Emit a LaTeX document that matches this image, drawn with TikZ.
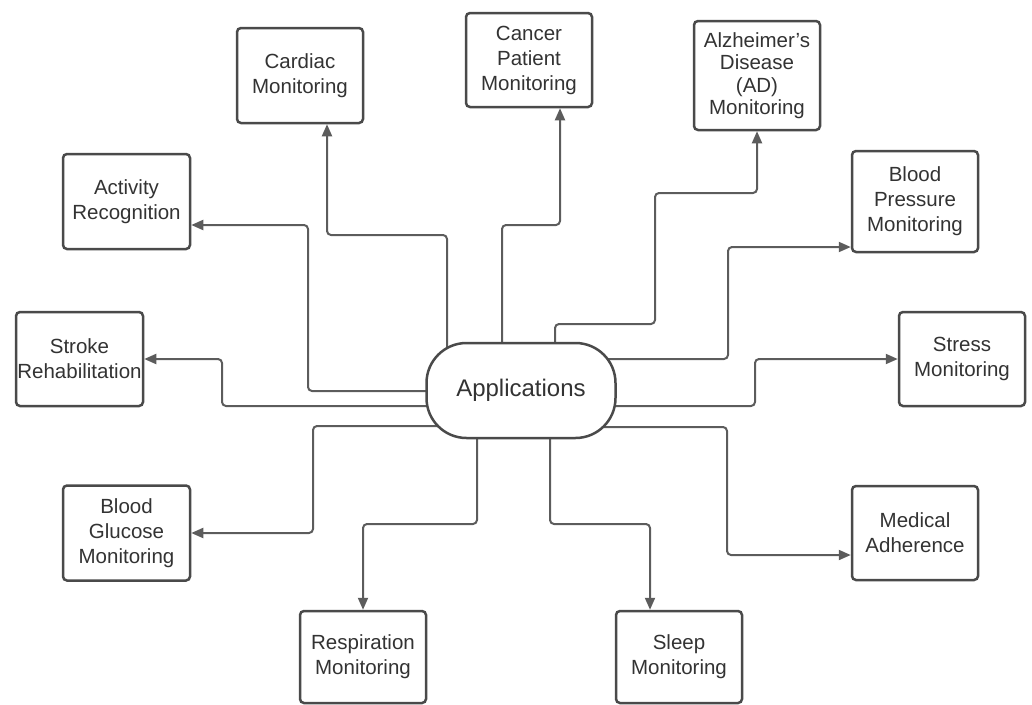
\documentclass[tikz,border=0pt]{standalone}
\usepackage{fontspec}
\setmainfont{Liberation Sans}
\usetikzlibrary{arrows.meta,backgrounds}
\definecolor{boxline}{HTML}{4A4A4A}
\definecolor{conn}{HTML}{5C5C5C}
\definecolor{txt}{HTML}{333333}
\tikzset{
  appbox/.style={draw=boxline, line width=2.5pt, fill=white, rectangle, rounded corners=40pt,
    minimum width=189pt, minimum height=95pt, inner sep=0pt, text=txt,
    font=\fontsize{24}{28}\selectfont},
  itembox/.style={draw=boxline, line width=2.5pt, fill=white, rectangle, rounded corners=4pt,
    minimum width=126pt, inner sep=0pt, align=center, text=txt,
    font=\fontsize{20.5}{25}\selectfont},
  conline/.style={draw=conn, line width=2pt, rounded corners=4pt,
    -{Triangle[length=12pt,width=10pt]}},
}
\begin{document}
\begin{tikzpicture}[x=1pt,y=-1pt]
\useasboundingbox (0,0) rectangle (1032,704);
\node[appbox] (app) at (521,390.5) {Applications};
\node[itembox, minimum height=95pt] (card) at (300,75.5) {Cardiac\\Monitoring};
\node[itembox, minimum height=94pt] (canc) at (529,60) {Cancer\\Patient\\Monitoring};
\node[itembox, minimum height=109pt, font=\fontsize{20.5}{22.4}\selectfont] (alz) at (757,75.5) {Alzheimer’s\\Disease\\(AD)\\Monitoring};
\node[itembox, minimum width=127pt, minimum height=95pt] (act) at (126.5,201.5) {Activity\\Recognition};
\node[itembox, minimum height=101pt] (bp) at (915,201.5) {Blood\\Pressure\\Monitoring};
\node[itembox, minimum width=127pt, minimum height=94pt] (stroke) at (79.5,359) {Stroke\\Rehabilitation};
\node[itembox, minimum height=94pt] (stress) at (962,359) {Stress\\Monitoring};
\node[itembox, minimum width=127pt, minimum height=95pt] (gluc) at (126.5,533) {Blood\\Glucose\\Monitoring};
\node[itembox, minimum height=94pt] (med) at (915,533) {Medical\\Adherence};
\node[itembox, minimum height=92pt] (resp) at (363,657) {Respiration\\Monitoring};
\node[itembox, minimum height=92pt] (sleep) at (679,657) {Sleep\\Monitoring};
\begin{pgfonlayer}{background}
\draw[conline] ([xshift=-74pt]app.center) -- (447,235) -- (327,235) -- ([xshift=27pt]card.south);
\draw[conline] ([xshift=-19pt]app.center) -- (502,225) -- (560,225) -- ([xshift=31pt]canc.south);
\draw[conline] ([xshift=34pt]app.center) -- (555,324) -- (655,324) -- (655,193) -- (757,193) -- (alz.south);
\draw[conline] ([yshift=-0.5pt]app.center) -- (308,391) -- (308,225) -- ([yshift=-23.5pt]act.east);
\draw[conline] ([yshift=-15.5pt]app.center) -- (222,406) -- (222,359) -- (stroke.east);
\draw[conline] ([yshift=-35.5pt]app.center) -- (313,426) -- (313,533) -- (gluc.east);
\draw[conline] ([xshift=-44pt]app.center) -- (477,524) -- (363,524) -- (resp.north);
\draw[conline] ([xshift=29pt]app.center) -- (550,524) -- (650,524) -- ([xshift=-29pt]sleep.north);
\draw[conline] ([yshift=-36.5pt]app.center) -- (727,427) -- (727,555) -- ([yshift=-22pt]med.west);
\draw[conline] ([yshift=-15.5pt]app.center) -- (755,406) -- (755,359) -- (stress.west);
\draw[conline] ([yshift=31.5pt]app.center) -- (728,359) -- (728,247) -- ([yshift=-45.5pt]bp.west);
\end{pgfonlayer}
\end{tikzpicture}
\end{document}
